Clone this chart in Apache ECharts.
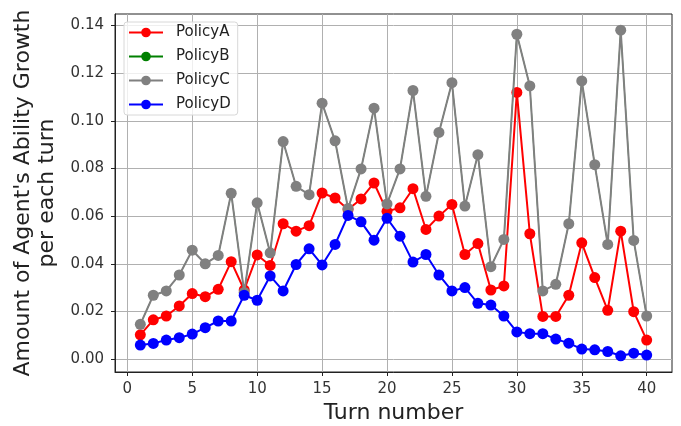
<!DOCTYPE html>
<html>
<head>
<meta charset="utf-8">
<script src="https://cdn.jsdelivr.net/npm/echarts@6/dist/echarts.min.js"></script>
<style>
  html, body { margin: 0; padding: 0; background: #fff; }
  #chart { width: 681px; height: 426px; }
</style>
</head>
<body>
<div id="chart"></div>
<script>
// turn number (x)
var turns = [1,2,3,4,5,6,7,8,9,10,11,12,13,14,15,16,17,18,19,20,
             21,22,23,24,25,26,27,28,29,30,31,32,33,34,35,36,37,38,39,40];

// ability growth per turn
var policyA = [0.0102,0.0165,0.0181,0.0223,0.0275,0.0262,0.0293,0.0409,0.0290,0.0437,
               0.0393,0.0568,0.0537,0.0560,0.0697,0.0676,0.0628,0.0672,0.0739,0.0620,
               0.0635,0.0715,0.0544,0.0600,0.0649,0.0439,0.0485,0.0290,0.0307,0.1119,
               0.0526,0.0179,0.0179,0.0268,0.0488,0.0342,0.0205,0.0537,0.0199,0.0080];
// PolicyB is not visible: drawn underneath PolicyC
var policyB = [0.0146,0.0268,0.0286,0.0353,0.0457,0.0400,0.0435,0.0696,0.0280,0.0656,
               0.0446,0.0913,0.0725,0.0690,0.1074,0.0916,0.0632,0.0798,0.1053,0.0651,
               0.0798,0.1127,0.0683,0.0951,0.1160,0.0642,0.0858,0.0388,0.0502,0.1363,
               0.1146,0.0286,0.0314,0.0568,0.1167,0.0816,0.0481,0.1380,0.0498,0.0181];
var policyC = [0.0146,0.0268,0.0286,0.0353,0.0457,0.0400,0.0435,0.0696,0.0280,0.0656,
               0.0446,0.0913,0.0725,0.0690,0.1074,0.0916,0.0632,0.0798,0.1053,0.0651,
               0.0798,0.1127,0.0683,0.0951,0.1160,0.0642,0.0858,0.0388,0.0502,0.1363,
               0.1146,0.0286,0.0314,0.0568,0.1167,0.0816,0.0481,0.1380,0.0498,0.0181];
var policyD = [0.0059,0.0066,0.0080,0.0090,0.0105,0.0132,0.0160,0.0160,0.0268,0.0247,
               0.0349,0.0286,0.0397,0.0463,0.0395,0.0481,0.0603,0.0576,0.0499,0.0591,
               0.0516,0.0407,0.0439,0.0353,0.0286,0.0300,0.0234,0.0227,0.0181,0.0114,
               0.0107,0.0107,0.0084,0.0067,0.0042,0.0039,0.0032,0.0014,0.0025,0.0017];

// tick labels
var xTicks = [0, 5, 10, 15, 20, 25, 30, 35, 40];
var yTicks = [0, 0.02, 0.04, 0.06, 0.08, 0.10, 0.12, 0.14];

var names = ['PolicyA', 'PolicyB', 'PolicyC', 'PolicyD'];
var colors = ['#ff0000', '#008000', '#808080', '#0000ff'];
var values = [policyA, policyB, policyC, policyD];

function pairs(ys) {
  return turns.map(function (t, i) { return [t, ys[i]]; });
}

var font = 'DejaVu Sans';
var chart = echarts.init(document.getElementById('chart'));

var option = {
  animation: false,
  backgroundColor: '#fff',
  textStyle: { fontFamily: font },
  grid: {
    left: 115, right: 9, top: 14, bottom: 54,
    outerBoundsMode: 'none',
    show: true, borderColor: '#222', borderWidth: 1
  },
  legend: {
    orient: 'vertical',
    left: 124, top: 22,
    data: names,
    itemWidth: 34, itemHeight: 12, itemGap: 9,
    padding: [3, 7, 3, 4],
    backgroundColor: 'rgba(255,255,255,0.8)',
    borderColor: '#d8d8d8', borderWidth: 1, borderRadius: 3,
    textStyle: { fontFamily: font, fontSize: 15, color: '#222', padding: [0, 0, 0, 8] }
  },
  xAxis: {
    type: 'value',
    min: -0.95, max: 41.95,
    name: 'Turn number',
    nameLocation: 'middle',
    nameGap: 30,
    nameTextStyle: { fontFamily: font, fontSize: 22, color: '#222' },
    axisLine: { show: true, onZero: false, lineStyle: { color: '#222' } },
    axisTick: { show: true, length: 4, customValues: xTicks, lineStyle: { color: '#222' } },
    axisLabel: { customValues: xTicks, fontSize: 15, color: '#333', margin: 10 },
    splitLine: { show: true, lineStyle: { color: '#b0b0b0', width: 1 } }
  },
  yAxis: {
    type: 'value',
    min: -0.0054, max: 0.1448,
    name: "Amount of Agent's Ability Growth\nper each turn",
    nameLocation: 'middle',
    nameGap: 56,
    nameRotate: 90,
    nameTextStyle: { fontFamily: font, fontSize: 22, color: '#222', lineHeight: 24 },
    axisLine: { show: true, onZero: false, lineStyle: { color: '#222' } },
    axisTick: { show: true, length: 4, customValues: yTicks, lineStyle: { color: '#222' } },
    axisLabel: {
      customValues: yTicks, fontSize: 15, color: '#333', margin: 11,
      formatter: function (v) { return v.toFixed(2); }
    },
    splitLine: { show: true, lineStyle: { color: '#b0b0b0', width: 1 } }
  },
  series: names.map(function (n, k) {
    var hidden = n === 'PolicyB';
    return {
      name: n,
      type: 'line',
      data: pairs(values[k]),
      symbol: 'circle',
      symbolSize: hidden ? 7 : 11,
      showSymbol: true,
      color: colors[k],
      lineStyle: { color: colors[k], width: hidden ? 1 : 2 },
      itemStyle: { color: colors[k] },
      z: 2 + k
    };
  })
};

chart.setOption(option);
</script>
</body>
</html>
